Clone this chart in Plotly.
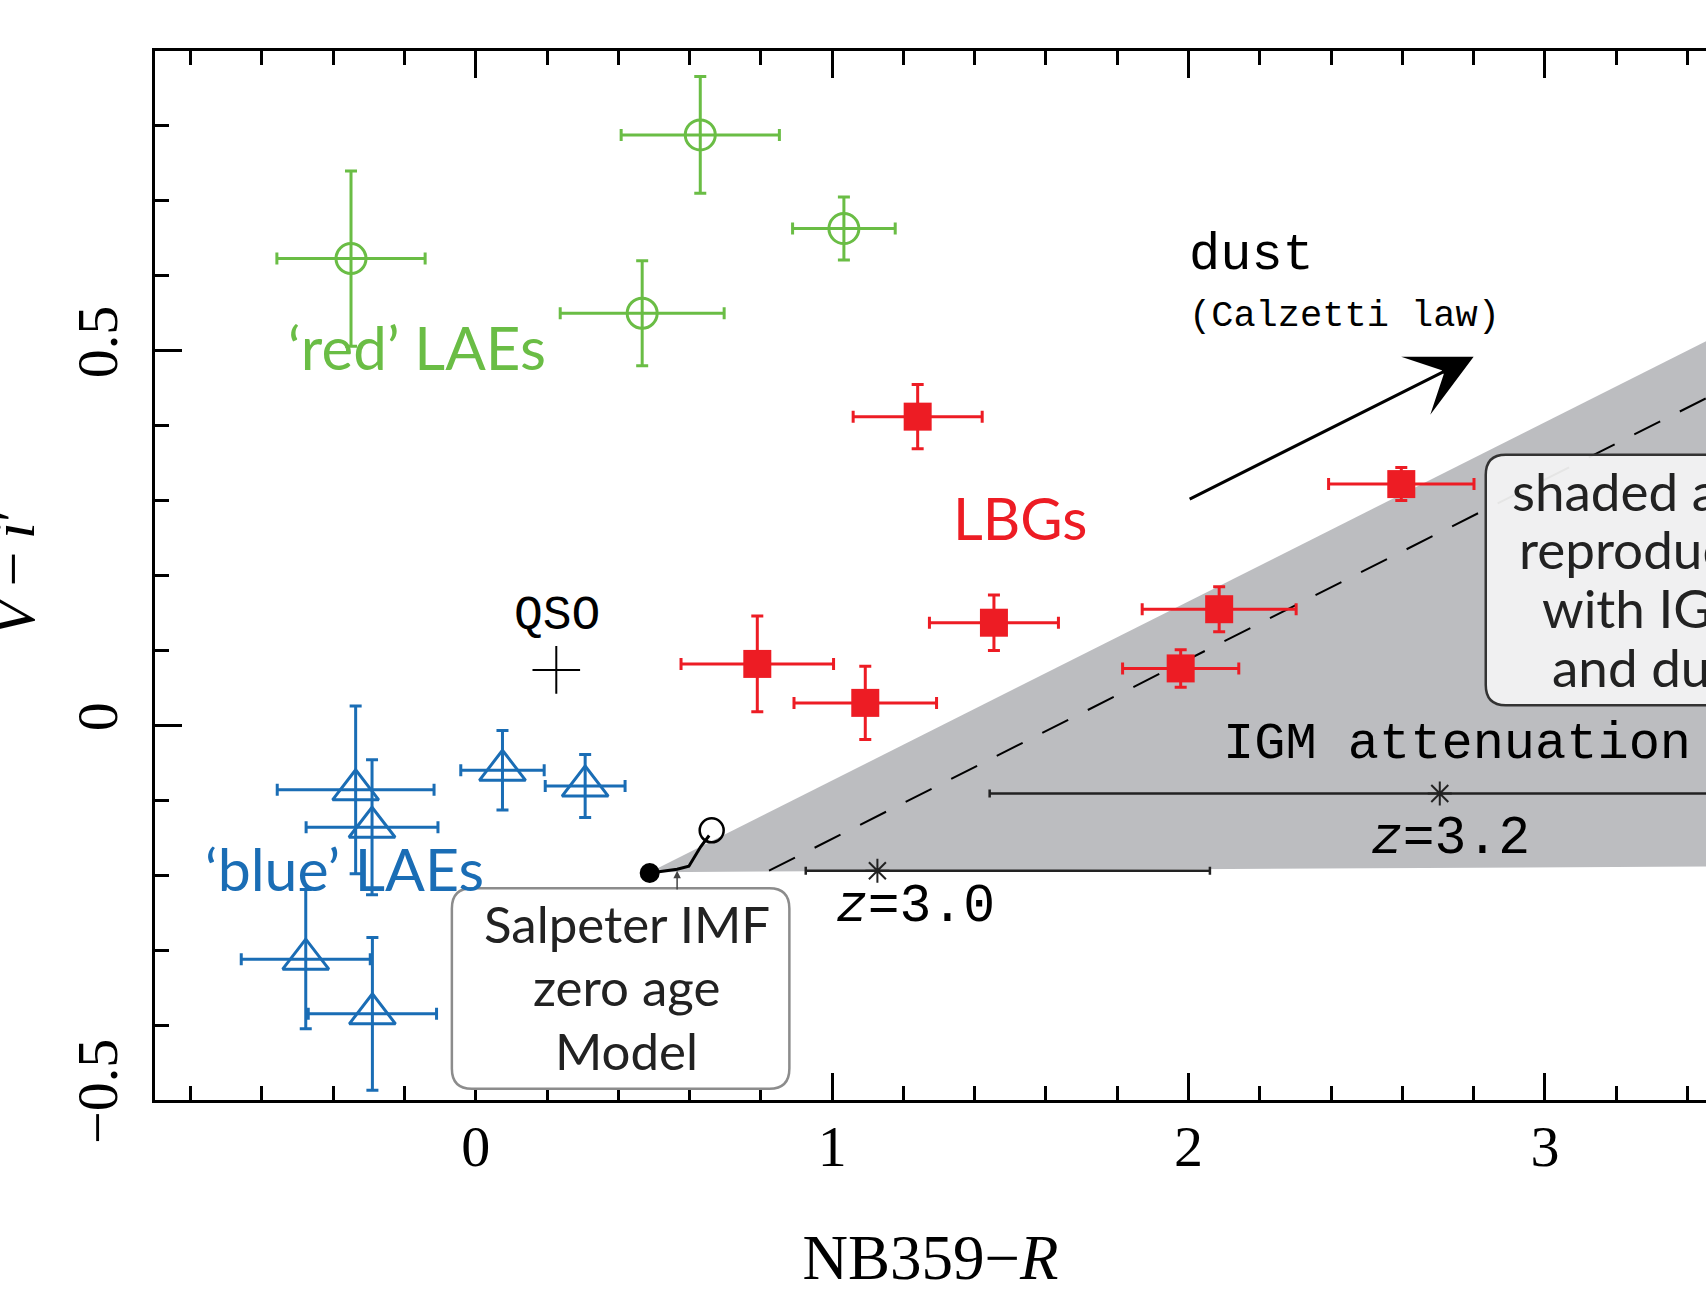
import plotly.graph_objects as go

# ---------------- data ----------------
# 'red' LAEs (green open circles)
red_lae_x = [-0.350, 0.630, 1.033, 0.467]
red_lae_y = [0.623, 0.788, 0.663, 0.550]
red_lae_xerr = [0.208, 0.222, 0.144, 0.230]
red_lae_yerr = [0.117, 0.078, 0.042, 0.070]

# LBGs (red filled squares)
lbg_x = [1.240, 2.597, 1.454, 2.086, 1.978, 0.790, 1.093]
lbg_y = [0.412, 0.322, 0.137, 0.155, 0.076, 0.082, 0.030]
lbg_xerr = [0.181, 0.204, 0.181, 0.216, 0.163, 0.214, 0.200]
lbg_yerr = [0.043, 0.022, 0.037, 0.030, 0.025, 0.064, 0.049]

# 'blue' LAEs (blue open triangles)
blue_lae_x = [-0.337, -0.291, 0.075, 0.307, -0.477, -0.290]
blue_lae_y = [-0.086, -0.136, -0.060, -0.081, -0.312, -0.385]
blue_lae_xerr = [0.220, 0.185, 0.117, 0.112, 0.181, 0.180]
blue_lae_yerr = [0.112, 0.090, 0.053, 0.042, 0.093, 0.102]

# QSO
qso_x = [0.226]
qso_y = [0.074]

# Salpeter IMF zero-age model track
model_x = [0.488, 0.565, 0.598, 0.631, 0.655]
model_y = [-0.197, -0.192, -0.188, -0.162, -0.147]
model_end_x = [0.662]
model_end_y = [-0.140]

# IGM attenuation ranges
igm_x = [1.127, 2.705]
igm_y = [-0.194, -0.091]
igm_minus = [0.201, 1.263]
igm_plus = [0.933, 1.000]
igm_labels = ["<i>z</i>=3.0", "<i>z</i>=3.2"]
igm_label_x = [1.235, 2.735]
igm_label_y = [-0.243, -0.152]

# shaded region (IGM + dust) and dashed line
shade_x = [0.488, 3.60, 3.60]
shade_y = [-0.196, 0.548, -0.188]
dash_x = [0.823, 3.60]
dash_y = [-0.194, 0.472]

# dust vector
dust_x = [1.999, 2.800]
dust_y = [0.301, 0.492]

# axis ranges and ticks
x_range = [-0.9, 3.452]
y_range = [-0.5, 0.9]
x_tickvals = [0, 1, 2, 3]
y_tickvals = [-0.5, 0, 0.5]
y_ticktext = ["\u22120.5", "0", "0.5"]

# annotation boxes
salp_box = [-0.067, 0.880, -0.485, -0.2175]
shade_box = [2.834, 3.75, 0.027, 0.361]

GREEN = "#6abd45"
RED = "#ed1c24"
BLUE = "#1a6db5"
SERIF = "Liberation Serif"
MONO = "Liberation Mono"
SANS = "Lato"

fig = go.Figure()

fig.add_trace(go.Scatter(x=shade_x, y=shade_y, fill="toself", fillcolor="#bcbdc0",
                         mode="lines", line=dict(width=0), hoverinfo="skip", showlegend=False))
fig.add_trace(go.Scatter(x=dash_x, y=dash_y, mode="lines",
                         line=dict(color="black", width=2, dash="29px,22px"),
                         hoverinfo="skip", showlegend=False))
fig.add_trace(go.Scatter(x=igm_x, y=igm_y, mode="markers",
                         marker=dict(symbol="asterisk-open", size=20, color="#222",
                                     line=dict(width=2, color="#222")),
                         error_x=dict(type="data", symmetric=False, array=igm_plus,
                                      arrayminus=igm_minus, color="#222", thickness=2.5, width=4),
                         showlegend=False))
fig.add_trace(go.Scatter(x=model_x, y=model_y, mode="lines",
                         line=dict(color="black", width=3), showlegend=False))
fig.add_trace(go.Scatter(x=model_x[:1], y=model_y[:1], mode="markers",
                         marker=dict(symbol="circle", size=20, color="black"), showlegend=False))
fig.add_trace(go.Scatter(x=model_end_x, y=model_end_y, mode="markers",
                         marker=dict(symbol="circle-open", size=24, color="black",
                                     line=dict(width=2.5)), showlegend=False))

def err(arr, col):
    return dict(type="data", array=arr, color=col, thickness=3, width=6)

fig.add_trace(go.Scatter(x=red_lae_x, y=red_lae_y, mode="markers",
                         marker=dict(symbol="circle-open", size=30, color=GREEN, line=dict(width=3)),
                         error_x=err(red_lae_xerr, GREEN), error_y=err(red_lae_yerr, GREEN),
                         showlegend=False))
fig.add_trace(go.Scatter(x=lbg_x, y=lbg_y, mode="markers",
                         marker=dict(symbol="square", size=28, color=RED),
                         error_x=err(lbg_xerr, RED), error_y=err(lbg_yerr, RED),
                         showlegend=False))
fig.add_trace(go.Scatter(x=blue_lae_x, y=blue_lae_y, mode="markers",
                         marker=dict(symbol="triangle-up-open", size=40, color=BLUE, line=dict(width=3)),
                         error_x=err(blue_lae_xerr, BLUE), error_y=err(blue_lae_yerr, BLUE),
                         showlegend=False))
fig.add_trace(go.Scatter(x=qso_x, y=qso_y, mode="markers",
                         marker=dict(symbol="cross-thin-open", size=34, color="black",
                                     line=dict(width=2, color="black")),
                         showlegend=False))

def rounded_path(x0, x1, y0, y1, rx, ry):
    return (f"M{x0+rx},{y0} L{x1-rx},{y0} Q{x1},{y0} {x1},{y0+ry} "
            f"L{x1},{y1-ry} Q{x1},{y1} {x1-rx},{y1} L{x0+rx},{y1} "
            f"Q{x0},{y1} {x0},{y1-ry} L{x0},{y0+ry} Q{x0},{y0} {x0+rx},{y0} Z")

shapes = [
    dict(type="path", xref="x", yref="y", layer="above",
         path=rounded_path(salp_box[0], salp_box[1], salp_box[2], salp_box[3], 0.056, 0.027),
         fillcolor="white", line=dict(color="#8c8c8c", width=2.5)),
    dict(type="path", xref="x", yref="y", layer="above",
         path=rounded_path(shade_box[0], shade_box[1], shade_box[2], shade_box[3], 0.056, 0.027),
         fillcolor="rgba(243,243,243,0.94)", line=dict(color="#333333", width=2.5)),
]

ann = []
def txt(x, y, t, size, color="black", family=SANS, xanchor="center"):
    ann.append(dict(x=x, y=y, xref="x", yref="y", text=t, showarrow=False,
                    font=dict(family=family, size=size, color=color),
                    xanchor=xanchor, yanchor="middle"))

txt(-0.166, 0.505, "\u2018red\u2019 LAEs", 60, GREEN)
txt(1.527, 0.278, "LBGs", 58, RED)
txt(-0.369, -0.191, "\u2018blue\u2019 LAEs", 59, BLUE)
txt(0.227, 0.146, "QSO", 48, family=MONO)
txt(1.995, 0.627, "dust", 52, family=MONO, xanchor="left")
txt(1.995, 0.546, "(Calzetti law)", 37, family=MONO, xanchor="left")
txt(2.092, -0.026, "IGM attenuation", 52, family=MONO, xanchor="left")
for lx, ly, lt in zip(igm_label_x, igm_label_y, igm_labels):
    txt(lx, ly, lt, 53, family=MONO)

salp_lines = ["Salpeter IMF", "zero age", "Model"]
for i, s in enumerate(salp_lines):
    txt(0.424, -0.264 - i * 0.085, s, 51, "#222")
shade_lines = ["shaded area", "reproduced", "with IGM", "and dust"]
for i, s in enumerate(shade_lines):
    txt(3.30, 0.314 - i * 0.0785, s, 53, "#222")

# dust arrow
ann.append(dict(x=dust_x[1], y=dust_y[1], ax=dust_x[0], ay=dust_y[0], xref="x", yref="y",
                axref="x", ayref="y", text="", showarrow=True, arrowhead=3, arrowsize=3.6,
                arrowwidth=3, arrowcolor="black", standoff=0))
# small arrow pointing at model track
ann.append(dict(x=model_x[1], y=-0.194, ax=model_x[1], ay=-0.221, xref="x", yref="y",
                axref="x", ayref="y", text="", showarrow=True, arrowhead=2, arrowsize=1,
                arrowwidth=1.5, arrowcolor="#444", standoff=0))
# y-axis title
ann.append(dict(x=-0.0912, y=0.203, xref="paper", yref="y",
                text="<i>V</i>\u2009\u2212\u2009<i>i</i>\u2032",
                showarrow=False, textangle=-90, font=dict(family=SERIF, size=62, color="black"),
                xanchor="center", yanchor="middle"))

fig.update_layout(
    width=1706, height=1294,
    margin=dict(l=155, r=0, t=51, b=194),
    plot_bgcolor="white", paper_bgcolor="white",
    shapes=shapes, annotations=ann, showlegend=False,
    xaxis=dict(range=x_range, tickvals=x_tickvals, ticks="inside", ticklen=27, tickwidth=2.5,
               tickcolor="black", showline=True, linecolor="black", linewidth=3, mirror="ticks",
               showgrid=False, zeroline=False, ticklabelstandoff=-7,
               tickfont=dict(family=SERIF, size=58, color="black"),
               minor=dict(dtick=0.2, tick0=0, ticks="inside", ticklen=14, tickwidth=2.5,
                          tickcolor="black", showgrid=False),
               title=dict(text="NB359\u2212<i>R</i>", font=dict(family=SERIF, size=63, color="black"),
                          standoff=58)),
    yaxis=dict(range=y_range, tickvals=y_tickvals, ticktext=y_ticktext, ticks="inside", ticklen=27,
               tickwidth=2.5, tickcolor="black", showline=True, linecolor="black", linewidth=3,
               mirror=False, showgrid=False, zeroline=False, tickangle=-90, ticklabelstandoff=12,
               tickfont=dict(family=SERIF, size=58, color="black"),
               minor=dict(dtick=0.1, tick0=0, ticks="inside", ticklen=14, tickwidth=2.5,
                          tickcolor="black", showgrid=False)),
)

fig.write_html("out.html")
